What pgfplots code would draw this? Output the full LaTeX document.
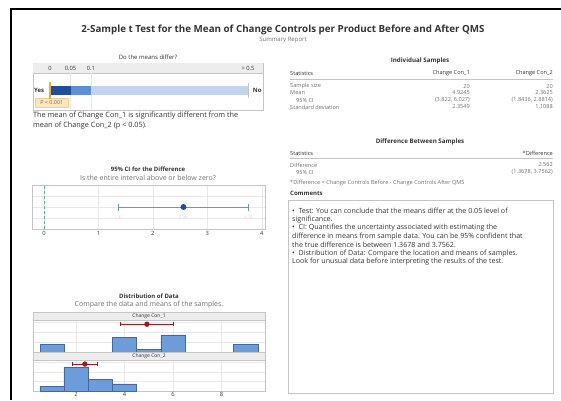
\documentclass[border=0pt]{standalone}
\usepackage{pgfplots}
\pgfplotsset{compat=1.18}
\usepackage{fontspec}
\setmainfont{Open Sans}

\definecolor{ink}{HTML}{333333}
\definecolor{soft}{HTML}{707070}
\definecolor{frame}{HTML}{C4C4C4}
\definecolor{gridc}{HTML}{E8E8E8}
\definecolor{strip}{HTML}{EDEDED}
\definecolor{pdark}{HTML}{1D4F9C}
\definecolor{pmid}{HTML}{5C8FD3}
\definecolor{plight}{HTML}{C3D5EE}
\definecolor{porange}{HTML}{F2A93B}
\definecolor{pbox}{HTML}{FCE6C0}
\definecolor{cipt}{HTML}{1B4E9B}
\definecolor{ciline}{HTML}{6A92CC}
\definecolor{zeroline}{HTML}{58B596}
\definecolor{histfill}{HTML}{6C9CD9}
\definecolor{histedge}{HTML}{43689E}
\definecolor{meanred}{HTML}{A3141C}

\newcommand{\fs}[1]{\fontsize{#1}{#1}\selectfont}

\pgfplotsset{
  panel/.style={
    scale only axis, clip=false,
    axis line style={draw=frame, line width=0.6pt},
    tick style={draw=none},
    ticklabel style={font=\fs{5.8}, text=ink, inner sep=1pt},
    /pgf/number format/assume math mode=true,
    grid style={gridc, line width=0.4pt},
  },
}

\begin{document}
\begin{tikzpicture}[x=1pt, y=1pt, font=\fs{6}, text=ink]
\path[use as bounding box] (0,0) rectangle (561,400);

% page frame
\draw[black, line width=2.5pt] (11,0) -- (11,391) -- (561,391);

% report heading
\node[font=\fs{9.8}\bfseries] at (283,370) {2-Sample t Test for the Mean of Change Controls per Product Before and After QMS};
\node[font=\fs{6}, text=soft] at (283,360) {Summary Report};

% ---------- p-value scale ----------
\node[font=\fs{6}] at (148,343) {Do the means differ?};
\begin{axis}[panel, name=pv, at={(33pt,290pt)}, anchor=south west,
  width=230pt, height=47pt,
  xmin=-0.83, xmax=10.39, ymin=0, ymax=47,
  xtick=\empty, ytick=\empty]
  \fill[strip] (axis cs:-0.83,37) rectangle (axis cs:10.39,47);
  \draw[frame, line width=0.4pt] (axis cs:-0.83,37) -- (axis cs:10.39,37);
  \node[font=\fs{5.8}] at (axis cs:0,42) {0};
  \node[font=\fs{5.8}] at (axis cs:1,42) {0.05};
  \node[font=\fs{5.8}] at (axis cs:2,42) {0.1};
  \node[font=\fs{5.8}] at (axis cs:9.66,42) {> 0.5};
  \draw[gridc] (axis cs:1,0) -- (axis cs:1,37);
  \draw[gridc] (axis cs:2,0) -- (axis cs:2,37);
  \addplot[fill=plight, draw=none] coordinates {(2,15) (9.66,15) (9.66,24) (2,24)} -- cycle;
  \addplot[fill=pmid, draw=none] coordinates {(1,15) (2,15) (2,24) (1,24)} -- cycle;
  \addplot[fill=pdark, draw=none] coordinates {(0,15) (1,15) (1,24) (0,24)} -- cycle;
  \draw[frame, line width=0.8pt] (axis cs:9.66,12) -- (axis cs:9.66,27);
  \node[font=\fs{6}\bfseries, anchor=west, inner sep=0pt] at (axis cs:-0.78,19.5) {Yes};
  \node[font=\fs{6}\bfseries, anchor=east, inner sep=0pt] at (axis cs:10.33,19.5) {No};
  \filldraw[fill=pbox, draw=porange!60, line width=0.3pt] (axis cs:-0.73,3) rectangle (axis cs:0.9,11.5);
  \node[font=\fs{5.4}, text=soft] at (axis cs:0.085,7.2) {P < 0.001};
  \draw[porange, line width=1.1pt] (axis cs:0,11.5) -- (axis cs:0,28);
\end{axis}
\node[anchor=west, inner sep=0pt, font=\fs{7.3}] at (33,284) {The mean of Change Con\_1 is significantly different from the};
\node[anchor=west, inner sep=0pt, font=\fs{7.3}] at (33,274.5) {mean of Change Con\_2 (p < 0.05).};

% ---------- confidence interval for the difference ----------
\node[font=\fs{6}\bfseries] at (148,231) {95\% CI for the Difference};
\node[font=\fs{7}, text=soft] at (148,222) {Is the entire interval above or below zero?};
\begin{axis}[panel, name=ci, at={(32pt,171pt)}, anchor=south west,
  width=233pt, height=44pt,
  xmin=-0.22, xmax=4.06, ymin=-1, ymax=1,
  xtick={0,1,2,3,4}, ytick={-0.5,0,0.5}, yticklabels={},
  xticklabel style={yshift=-1pt},
  xmajorgrids, ymajorgrids]
  \draw[zeroline, densely dashed, line width=0.8pt] (axis cs:0,-1) -- (axis cs:0,1);
  \addplot[ciline, line width=0.6pt, mark=*, mark size=2.6pt,
    mark options={draw=cipt, fill=cipt},
    error bars/.cd, x dir=both, x explicit, error mark=|,
    error bar style={ciline, line width=0.6pt},
    error mark options={ciline, line width=0.6pt, mark size=3.5pt}]
    coordinates {(2.562,0) +- (1.1942,0)};
  \node[font=\fs{4.5}, text=black!15] at (axis cs:1.3678,-0.45) {1.37};
  \node[font=\fs{4.5}, text=black!15] at (axis cs:2.562,-0.45) {2.56};
  \node[font=\fs{4.5}, text=black!15] at (axis cs:3.7562,-0.45) {3.76};
\end{axis}

% ---------- distribution of data ----------
\node[font=\fs{6}\bfseries] at (149,104) {Distribution of Data};
\node[font=\fs{7}, text=soft] at (149,95) {Compare the data and means of the samples.};

\begin{axis}[panel, name=d1, at={(33pt,48pt)}, anchor=south west,
  width=232pt, height=32pt,
  xmin=0.22, xmax=9.8, ymin=0, ymax=13,
  xtick={2,4,6,8}, xticklabels={}, ytick={4,8,12}, yticklabels={},
  xmajorgrids, ymajorgrids]
  \addplot[ybar interval, fill=histfill, draw=histedge, line width=0.4pt]
    coordinates {(0.5,3) (1.5,3)};
  \addplot[ybar interval, fill=histfill, draw=histedge, line width=0.4pt]
    coordinates {(3.5,6) (4.5,1) (5.5,7) (6.5,7)};
  \addplot[ybar interval, fill=histfill, draw=histedge, line width=0.4pt]
    coordinates {(8.5,3) (9.5,3)};
  \addplot[meanred, line width=0.6pt, mark=*, mark size=2.3pt,
    mark options={fill=meanred},
    error bars/.cd, x dir=both, x explicit, error mark=|,
    error bar style={meanred, line width=0.6pt},
    error mark options={meanred, line width=0.6pt, mark size=2pt}]
    coordinates {(4.9245,11.3) +- (1.1025,0)};
\end{axis}
\filldraw[fill=strip, draw=frame, line width=0.5pt] (d1.north west) rectangle ([yshift=8pt]d1.north east);
\node[font=\fs{5}] at ([yshift=4pt]d1.north) {Change Con\_1};

\begin{axis}[panel, name=d2, at={(33pt,9pt)}, anchor=south west,
  width=232pt, height=31pt,
  xmin=0.22, xmax=9.8, ymin=0, ymax=13,
  xtick={2,4,6,8}, ytick={4,8,12}, yticklabels={},
  xmajorgrids, ymajorgrids]
  \addplot[ybar interval, fill=histfill, draw=histedge, line width=0.4pt]
    coordinates {(0.5,2) (1.5,10) (2.5,5) (3.5,3) (4.5,3)};
  \addplot[meanred, line width=0.6pt, mark=*, mark size=2.3pt,
    mark options={fill=meanred},
    error bars/.cd, x dir=both, x explicit, error mark=|,
    error bar style={meanred, line width=0.6pt},
    error mark options={meanred, line width=0.6pt, mark size=2pt}]
    coordinates {(2.3625,11.3) +- (0.5189,0)};
\end{axis}
\filldraw[fill=strip, draw=frame, line width=0.5pt] (d2.north west) rectangle ([yshift=8pt]d2.north east);
\node[font=\fs{5}] at ([yshift=4pt]d2.north) {Change Con\_2};

% ---------- individual samples table ----------
\begin{scope}[font=\fs{5.6}]
\node[font=\fs{6.2}\bfseries] at (420,339) {Individual Samples};
\node[anchor=west, inner sep=0pt] at (290,327) {Statistics};
\node[anchor=east, inner sep=0pt] at (470,327) {Change Con\_1};
\node[anchor=east, inner sep=0pt] at (553,327) {Change Con\_2};
\draw[frame, line width=0.5pt] (290,321) -- (553,321);
\foreach \yy/\lab/\a/\b in {314/Sample size/20/20, 307/Mean/4.9245/2.3625,
    300/{\hspace{6pt}95\% CI}/{(3.822, 6.027)}/{(1.8436, 2.8814)},
    293/Standard deviation/2.3549/1.1088} {
  \node[anchor=west, inner sep=0pt, text=soft] at (290,\yy) {\lab};
  \node[anchor=east, inner sep=0pt, text=soft] at (470,\yy) {\a};
  \node[anchor=east, inner sep=0pt, text=soft] at (553,\yy) {\b};
}

% ---------- difference table ----------
\node[font=\fs{6.2}\bfseries] at (420,258) {Difference Between Samples};
\node[anchor=west, inner sep=0pt] at (290,247) {Statistics};
\node[anchor=east, inner sep=0pt] at (553,247) {*Difference};
\draw[frame, line width=0.5pt] (290,242) -- (553,242);
\node[anchor=west, inner sep=0pt, text=soft] at (290,235) {Difference};
\node[anchor=east, inner sep=0pt, text=soft] at (553,235) {2.562};
\node[anchor=west, inner sep=0pt, text=soft] at (290,228) {\hspace{6pt}95\% CI};
\node[anchor=east, inner sep=0pt, text=soft] at (553,228) {(1.3678, 3.7562)};
\node[anchor=west, inner sep=0pt, text=soft] at (290,217) {*Difference = Change Controls Before - Change Controls After QMS};
\end{scope}

% ---------- comments ----------
\node[anchor=west, inner sep=0pt, font=\fs{6}\bfseries] at (290,207) {Comments};
\draw[frame, line width=0.6pt] (288,7) rectangle (553,200);
\begin{scope}[font=\fs{7.1}]
\foreach \yy/\line in {
  189/{\textbullet\ \ Test: You can conclude that the means differ at the 0.05 level of},
  180.5/{significance.},
  172/{\textbullet\ \ CI: Quantifies the uncertainty associated with estimating the},
  163.5/{difference in means from sample data. You can be 95\% confident that},
  155/{the true difference is between 1.3678 and 3.7562.},
  146.5/{\textbullet\ \ Distribution of Data: Compare the location and means of samples.},
  138/{Look for unusual data before interpreting the results of the test.}} {
  \node[anchor=west, inner sep=0pt] at (292,\yy) {\line};
}
\end{scope}
\end{tikzpicture}
\end{document}
